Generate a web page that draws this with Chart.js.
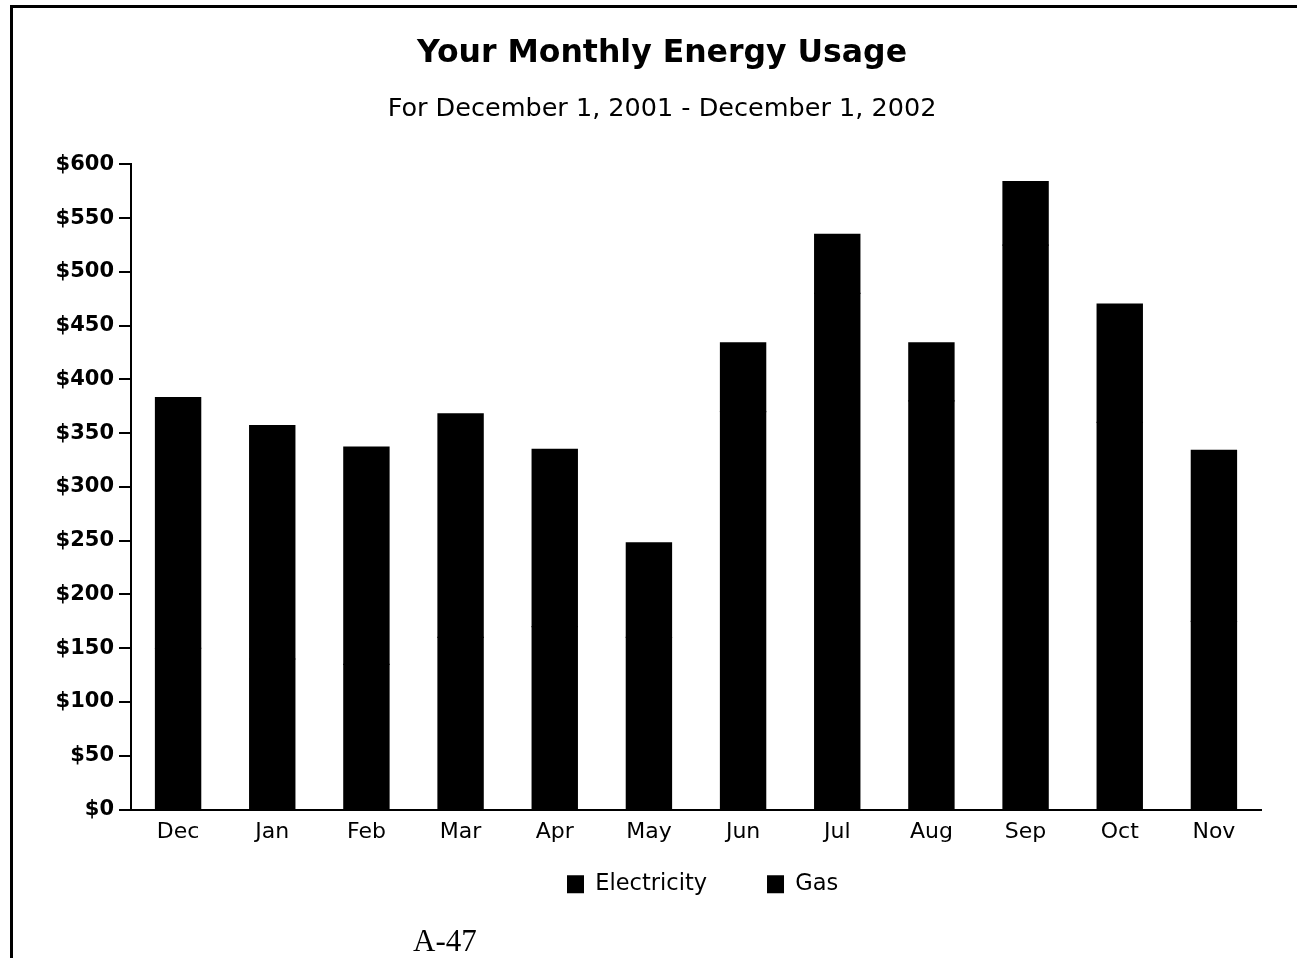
<!DOCTYPE html>
<html>
<head>
<meta charset="utf-8">
<script src="https://cdn.jsdelivr.net/npm/chart.js@4/dist/chart.umd.min.js"></script>
<style>
  html, body { margin: 0; padding: 0; background: #ffffff; }
  body { width: 1297px; height: 958px; position: relative; overflow: hidden; }
  #frame { position: absolute; left: 10px; top: 5px; right: 0; bottom: -10px;
           border-left: 3px solid #000; border-top: 3px solid #000; }
  #c { position: absolute; left: 0; top: 0; }
  #page { position: absolute; left: 413px; top: 925px; font-family: "Liberation Serif", "Times New Roman", serif;
          font-size: 31px; line-height: 31px; color: #000; }
</style>
</head>
<body>
<div id="frame"></div>
<canvas id="c" width="1297" height="958"></canvas>
<div id="page">A-47</div>
<script>
// ---- data ----
const months = ['Dec', 'Jan', 'Feb', 'Mar', 'Apr', 'May', 'Jun', 'Jul', 'Aug', 'Sep', 'Oct', 'Nov'];
// Bar totals are readable; the electricity/gas split is not (both series are black), so it is estimated.
const electricity = [150, 140, 135, 160, 170, 160, 370, 480, 380, 525, 360, 175];
const gas         = [233, 217, 202, 208, 165,  88,  64,  55,  54,  59, 110, 159];
const yMin = 0, yMax = 600, yStep = 50;
const titleText = 'Your Monthly Energy Usage';
const subtitleText = 'For December 1, 2001 - December 1, 2002';

Chart.defaults.font.family = '"DejaVu Sans", "Liberation Sans", sans-serif';
Chart.defaults.color = '#000';

const legendTarget = { left: 567, itemCenterY: 884 };

const legendMover = {
  id: 'legendMover',
  afterLayout(chart) {
    const lg = chart.legend;
    if (!lg || !lg.lineWidths) return;
    const pad = lg.options.labels.padding;
    const start = (lg.left + pad + lg.right - lg.lineWidths[0]) / 2;
    const dx = legendTarget.left - start;
    lg.left += dx; lg.right += dx;
    const h = lg.bottom - lg.top;
    const itemH = lg._itemHeight || 22;
    const top = legendTarget.itemCenterY - itemH / 2 - pad;
    lg.top = top; lg.bottom = top + h;
  }
};

new Chart(document.getElementById('c'), {
  type: 'bar',
  data: {
    labels: months,
    datasets: [
      { label: 'Electricity', data: electricity, backgroundColor: '#000', borderWidth: 0, inflateAmount: 0.6, stack: 's' },
      { label: 'Gas', data: gas, backgroundColor: '#000', borderWidth: 0, inflateAmount: 0.6, stack: 's' }
    ]
  },
  options: {
    responsive: false,
    devicePixelRatio: 1,
    animation: false,
    events: [],
    layout: { padding: { left: 41, right: 14, top: 0, bottom: 0 } },
    datasets: { bar: { categoryPercentage: 1, barPercentage: 0.48 } },
    plugins: {
      title: {
        display: true, text: titleText, color: '#000',
        font: { size: 31.5, weight: 'bold', lineHeight: 1.2 },
        padding: { top: 35, bottom: 10 }
      },
      subtitle: {
        display: true, text: subtitleText, color: '#000',
        font: { size: 25.5, weight: 'normal', lineHeight: 1.2 },
        padding: { top: 11, bottom: 40 }
      },
      legend: {
        display: true, position: 'bottom',
        labels: { boxWidth: 17, boxHeight: 18, padding: 60, color: '#000',
                  font: { size: 22.5 } }
      },
      tooltip: { enabled: false }
    },
    scales: {
      x: {
        stacked: true,
        grid: { display: false, drawTicks: false },
        border: { display: true, color: '#000', width: 2 },
        ticks: { color: '#000', font: { size: 22 }, padding: 10, maxRotation: 0, autoSkip: false },
        afterFit(scale) { scale.height = 56; }
      },
      y: {
        stacked: true,
        min: yMin, max: yMax,
        grid: { display: true, drawOnChartArea: false, drawTicks: true, tickLength: 12, color: '#000', lineWidth: 2 },
        border: { display: true, color: '#000', width: 2 },
        ticks: { stepSize: yStep, color: '#000', font: { size: 21, weight: 'bold' }, padding: 5,
                 callback: v => '$' + v },
        afterFit(scale) { scale.width = 90; }
      },
      spacer: {
        type: 'linear', position: 'right', min: yMin, max: yMax,
        grid: { display: false, drawTicks: false },
        border: { display: false },
        ticks: { display: false },
        afterFit(scale) { scale.width = 22; }
      }
    }
  },
  plugins: [legendMover]
});
</script>
</body>
</html>
